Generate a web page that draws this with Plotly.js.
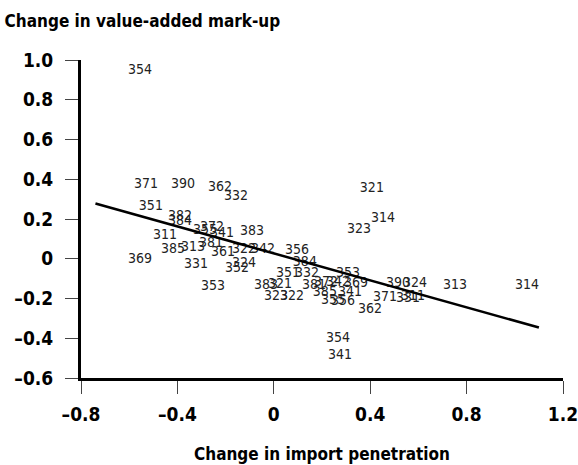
<!DOCTYPE html>
<html>
<head>
<meta charset="utf-8">
<script src="https://cdn.plot.ly/plotly-3.0.1.min.js"></script>
<style>html,body{margin:0;padding:0;background:#fff;}#chart{width:578px;height:465px;}</style>
</head>
<body>
<div id="chart"></div>
<script>
// Industry codes (ISIC) and their changes
const codes = ["354","371","390","362","332","351","382","384","311","385","313","369","331","355","372","341","381","383","361","322","342","324","352","353",
  "356","384","351","332","353","383","321","323","322","381","372","342","385","355","356","341","369","390","324","371","331","311","362","313","314","354","341","321","314","323"];
const importChange = [-0.555,-0.530,-0.377,-0.223,-0.157,-0.510,-0.389,-0.389,-0.451,-0.418,-0.335,-0.555,-0.323,-0.285,-0.256,-0.215,-0.261,-0.090,-0.211,-0.124,-0.045,-0.124,-0.153,-0.252,
  0.096,0.129,0.059,0.138,0.308,-0.032,0.026,0.009,0.076,0.167,0.217,0.266,0.212,0.246,0.287,0.316,0.341,0.515,0.586,0.461,0.557,0.578,0.399,0.752,1.051,0.266,0.275,0.407,0.453,0.354];
const markupChange = [0.945,0.375,0.375,0.36,0.315,0.265,0.215,0.185,0.115,0.045,0.055,-0.005,-0.03,0.14,0.155,0.125,0.075,0.135,0.03,0.045,0.045,-0.025,-0.05,-0.14,
  0.04,-0.02,-0.075,-0.075,-0.075,-0.135,-0.13,-0.19,-0.19,-0.135,-0.12,-0.12,-0.17,-0.21,-0.215,-0.17,-0.125,-0.125,-0.125,-0.195,-0.2,-0.19,-0.255,-0.135,-0.135,-0.4,-0.485,0.355,0.205,0.145];
// Fitted regression line endpoints
const fitX = [-0.74, 1.1];
const fitY = [0.278, -0.346];
// Axis ticks
const xTickVals = [-0.8,-0.4,0,0.4,0.8,1.2];
const xTickText = ["–0.8","–0.4","0","0.4","0.8","1.2"];
const yTickVals = [-0.6,-0.4,-0.2,0,0.2,0.4,0.6,0.8,1.0];
const yTickText = ["–0.6","–0.4","–0.2","0","0.2","0.4","0.6","0.8","1.0"];

const narrow = "'Liberation Sans Narrow', 'DejaVu Sans Condensed', 'Roboto', sans-serif";
const bold = "'DejaVu Sans Condensed', 'Liberation Sans Narrow', sans-serif";

const traces = [
  {x: importChange, y: markupChange, text: codes, mode: 'text', type: 'scatter',
   textfont: {family: narrow, size: 14, color: '#222'}, textposition: 'middle center', hoverinfo: 'skip', cliponaxis: false},
  {x: fitX, y: fitY, mode: 'lines', type: 'scatter', line: {color: '#000', width: 2.5}, hoverinfo: 'skip'}
];

const layout = {
  width: 578, height: 465,
  margin: {l: 81, r: 15, t: 60, b: 87},
  paper_bgcolor: '#fff', plot_bgcolor: '#fff',
  showlegend: false,
  title: {text: '<b>Change in value-added mark-up</b>', x: 0.008, xanchor: 'left', xref: 'container',
          y: 0.955, yanchor: 'middle', yref: 'container',
          font: {family: bold, size: 17, color: '#000'}},
  xaxis: {range: [-0.8, 1.2], tickvals: xTickVals, ticktext: xTickText, showgrid: false, zeroline: false,
          showline: true, linecolor: '#000', linewidth: 3, ticks: 'outside', ticklen: 13, tickwidth: 1, tickcolor: '#444',
          ticklabelstandoff: 4, ticklabeloverflow: 'allow',
          tickfont: {family: bold, size: 19, color: '#000', weight: 'bold'},
          title: {text: '<b>Change in import penetration</b>', font: {family: bold, size: 17, color: '#000'}, standoff: 25}},
  yaxis: {range: [-0.6, 1.0], tickvals: yTickVals, ticktext: yTickText, showgrid: false, zeroline: false,
          showline: true, linecolor: '#000', linewidth: 3, ticks: 'outside', ticklen: 13, tickwidth: 1, tickcolor: '#444',
          ticklabelstandoff: 8, ticklabeloverflow: 'allow',
          tickfont: {family: bold, size: 19, color: '#000', weight: 'bold'}}
};

Plotly.newPlot('chart', traces, layout, {staticPlot: true});
</script>
</body>
</html>
